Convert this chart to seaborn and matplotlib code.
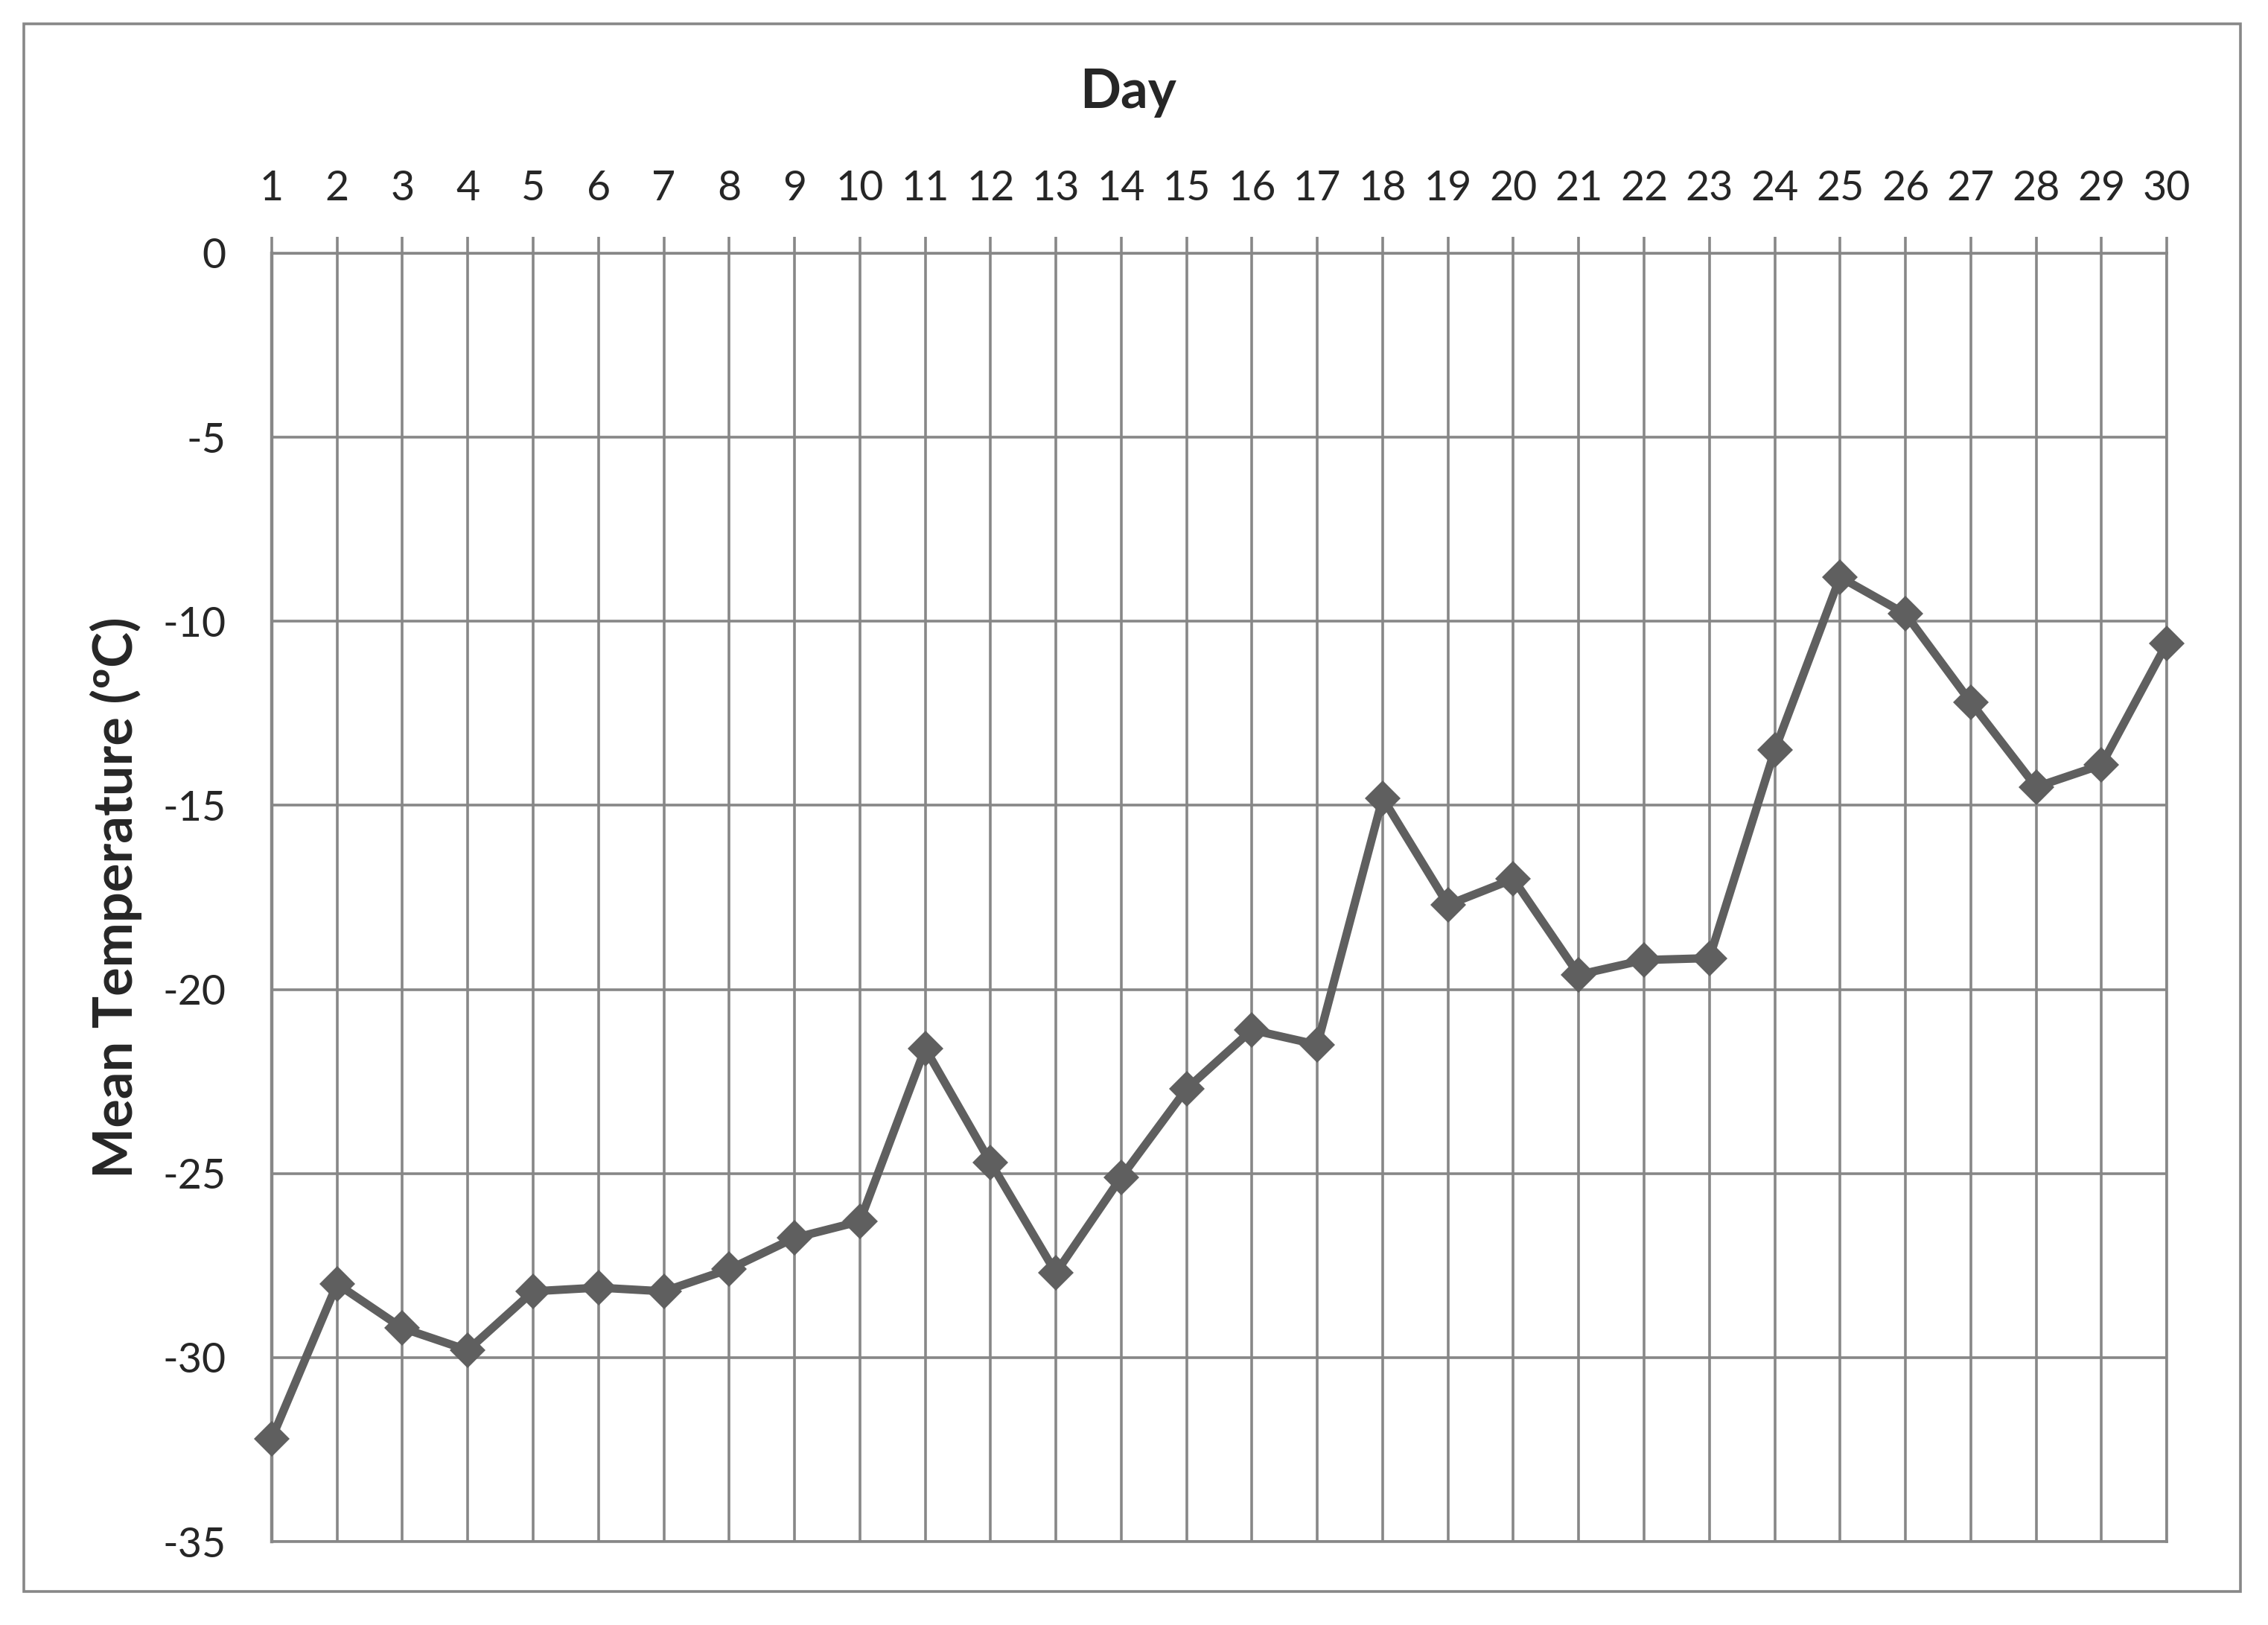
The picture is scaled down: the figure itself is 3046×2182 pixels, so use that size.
import matplotlib
matplotlib.use("Agg")
import matplotlib.pyplot as plt
import seaborn as sns
import pandas as pd
from matplotlib.patches import Rectangle

# Data
days = list(range(1, 31))
mean_temp = [-32.2, -28.0, -29.2, -29.8, -28.2, -28.1, -28.2, -27.6, -26.75, -26.3,
             -21.6, -24.7, -27.7, -25.1, -22.7, -21.1, -21.5, -14.8, -17.7, -17.0,
             -19.6, -19.2, -19.15, -13.5, -8.8, -9.8, -12.2, -14.5, -13.9, -10.6]
y_ticks = [0, -5, -10, -15, -20, -25, -30, -35]

df = pd.DataFrame({"Day": days, "Temp": mean_temp})

sns.set_style("white")
plt.rcParams["font.family"] = ["Lato", "DejaVu Sans"]
plt.rcParams["axes.unicode_minus"] = False

grid_col = "#878787"
line_col = "#5f5f5f"

fig = plt.figure(figsize=(15.23, 10.91), dpi=200)
ax = fig.add_axes([0.1198, 0.0513, 0.9554 - 0.1198, 0.8442 - 0.0513])

sns.lineplot(data=df, x="Day", y="Temp", ax=ax, color=line_col, linewidth=4,
             marker="D", markersize=12, markeredgecolor=line_col, markeredgewidth=0,
             clip_on=False, zorder=5)

ax.set_xlim(1, 30)
ax.set_ylim(-35, 0)
ax.set_xticks(days)
ax.set_yticks(y_ticks)
ax.xaxis.tick_top()
ax.xaxis.set_label_position("top")
ax.tick_params(axis="x", direction="out", length=8, width=1.3, color=grid_col,
               pad=14, labelsize=20)
ax.tick_params(axis="y", length=0, pad=22, labelsize=20)

ax.grid(True, color=grid_col, linewidth=1.3)
for s in ax.spines.values():
    s.set_color(grid_col)
    s.set_linewidth(1.3)
ax.spines["left"].set_linewidth(1.6)

ax.set_xlabel("")
ax.set_ylabel("Mean Temperature (ºC)", fontsize=26, fontweight="bold", labelpad=10)
# axis title sits centred on the chart frame, not on the plot area
fig.text(0.4974, 0.943, "Day", fontsize=26, fontweight="bold", ha="center", va="center")

# outer frame around the whole chart
fig.patches.append(Rectangle((0.0105, 0.0206), 0.9774, 0.9647, transform=fig.transFigure,
                             fill=False, edgecolor=grid_col, linewidth=1.3))

fig.savefig("out.png", dpi=200)
